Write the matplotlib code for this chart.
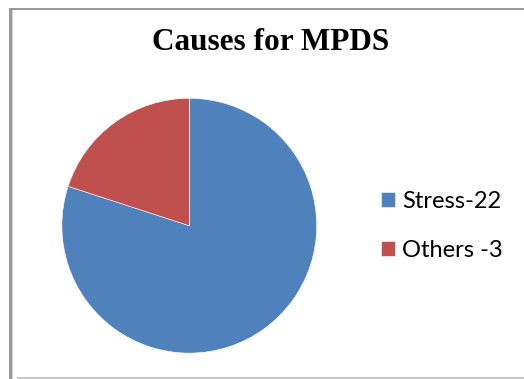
import matplotlib.pyplot as plt
from matplotlib.patches import Rectangle

labels = ["Stress-22", "Others -3"]
shares = [80, 20]          # wedge sizes as drawn in the picture (per cent)
colors = ["#4F81BD", "#C0504D"]
title = "Causes for MPDS"

W, H = 524, 379
fig = plt.figure(figsize=(W / 100, H / 100), dpi=100)

# ── frame lines (pixel coords, origin top-left) ─────────────
def px_rect(x0, y0, w, h, color):
    fig.add_artist(Rectangle((x0 / W, 1 - (y0 + h) / H), w / W, h / H,
                             transform=fig.transFigure, facecolor=color,
                             edgecolor="none"))

px_rect(9, 8, 515, 2, "#9A9A9A")      # top
px_rect(9, 8, 3, 371, "#9A9A9A")      # left
px_rect(12, 10, 1, 369, "#D0D0D0")
px_rect(17, 377, 507, 2, "#C8C8C8")   # bottom

# ── pie ─────────────────────────────────────────────────────
cx, cy, r = 189.3, 225.7, 127.4
ax = fig.add_axes([(cx - r) / W, 1 - (cy + r) / H, 2 * r / W, 2 * r / H])
wedges, _ = ax.pie(shares, colors=colors, startangle=90, counterclock=False,
                   wedgeprops=dict(edgecolor="white", linewidth=0.4))
ax.set_xlim(-1, 1)
ax.set_ylim(-1, 1)
ax.set_aspect("equal")
ax.axis("off")

fig.text(271 / W, 1 - 42 / H, title, ha="center", va="center",
         fontsize=22.5, fontweight="bold", family="Liberation Serif")

fig.legend(wedges, labels, loc="center left",
           bbox_to_anchor=(369 / W, 1 - 226 / H),
           frameon=False, prop=dict(family="Lato", size=17),
           handlelength=0.6, handleheight=0.6, handletextpad=0.3,
           labelspacing=1.2, borderpad=0)

fig.savefig("out.png", dpi=100)
